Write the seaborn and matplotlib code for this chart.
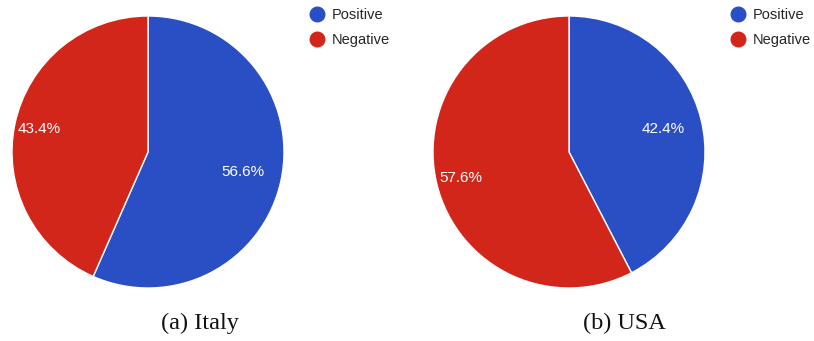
import numpy as np
import matplotlib
matplotlib.use("Agg")
import matplotlib.pyplot as plt
import seaborn as sns
from matplotlib.lines import Line2D

sns.set_theme(style="white")

categories = ["Positive", "Negative"]
italy_values = [56.6, 43.4]
usa_values = [42.4, 57.6]
captions = ["(a) Italy", "(b) USA"]
colors = ["#2a4fc4", "#d2261a"]

W, H = 814, 341
fig = plt.figure(figsize=(W / 100, H / 100), dpi=100)

def px_axes(cx, cy, r):
    return fig.add_axes([(cx - r) / W, (H - cy - r) / H, 2 * r / W, 2 * r / H])

specs = [
    (italy_values, 148, 152, 320, 200),
    (usa_values, 569, 152, 741, 624),
]
label_dist = [0.71, 0.82]

for (vals, cx, cy, lx, capx), cap in zip(specs, captions):
    ax = px_axes(cx, cy, 136)
    wedges, texts, autotexts = ax.pie(
        vals, colors=colors, startangle=90, counterclock=False,
        autopct="%1.1f%%", pctdistance=0.71,
        wedgeprops=dict(edgecolor="white", linewidth=1),
        textprops=dict(color="white", fontsize=11, family="Liberation Sans"),
    )
    for w, t, d in zip(wedges, autotexts, label_dist):
        ang = np.deg2rad((w.theta1 + w.theta2) / 2)
        t.set_position((d * np.cos(ang), d * np.sin(ang)))
    ax.set_xlim(-1, 1)
    ax.set_ylim(-1, 1)
    ax.set_aspect("equal")
    ax.axis("off")

    handles = [Line2D([], [], marker="o", linestyle="", markersize=10.5,
                      markerfacecolor=c, markeredgecolor=c) for c in colors]
    fig.legend(handles, categories, loc="upper left",
               bbox_to_anchor=((lx - 10) / W, 1 - 8 / H),
               frameon=False, handletextpad=0.5, labelspacing=0.75,
               handlelength=1.0, borderpad=0, borderaxespad=0,
               prop=dict(family="Liberation Sans", size=10.5))
    fig.text(capx / W, 1 - 323 / H, cap, ha="center", va="center",
             family="Liberation Serif", fontsize=17.5, color="#111111")

fig.savefig("out.png", dpi=100)
